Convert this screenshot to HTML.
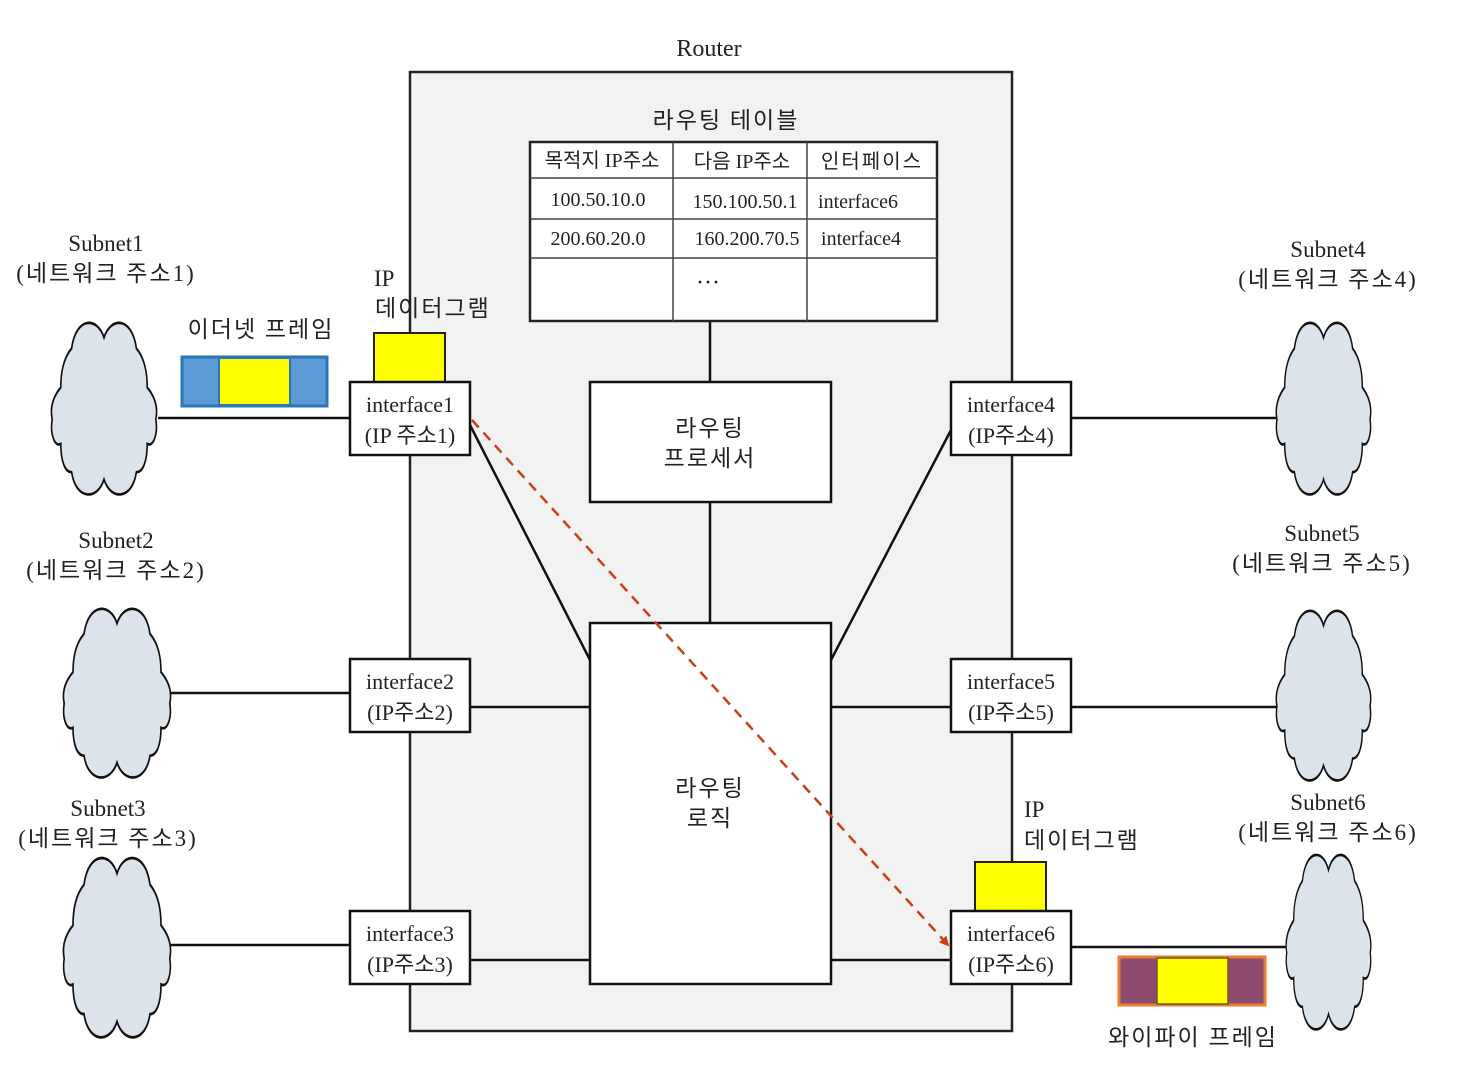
<!DOCTYPE html>
<html><head><meta charset="utf-8"><style>
html,body{margin:0;padding:0;background:#fff;}
svg{display:block;}
text{font-family:"Liberation Serif","Noto Sans CJK KR",serif;fill:#222;}
.ls{letter-spacing:2px;}
</style></head><body>
<svg width="1466" height="1085" viewBox="0 0 1466 1085" xmlns="http://www.w3.org/2000/svg">
<defs>
<path id="cl" d="M50,10 C44,-2 24,-2 20,16 C12,22 10,30 10,38 C2,44 0,50 2,56 C0,64 4,72 10,70 C10,80 14,86 20,86 C24,102 44,102 50,90 C56,102 76,102 80,86 C86,86 90,80 90,70 C96,72 100,64 98,56 C100,50 98,44 90,38 C90,30 88,22 80,16 C76,-2 56,-2 50,10 Z"/>
<marker id="ar" markerWidth="10" markerHeight="10" refX="8" refY="5" orient="auto" markerUnits="userSpaceOnUse"><path d="M0,0 L10,5 L0,10 Z" fill="#c8401a"/></marker>
</defs>
<rect x="410" y="72" width="602" height="959" fill="#f2f2f2" stroke="#222" stroke-width="2.5"/>
<text x="709" y="56" font-size="24" text-anchor="middle">Router</text>

<g stroke="#111" stroke-width="2.5">
<line x1="158" y1="418" x2="350" y2="418"/>
<line x1="170" y1="693" x2="350" y2="693"/>
<line x1="170" y1="945" x2="350" y2="945"/>
<line x1="1071" y1="418" x2="1278" y2="418"/>
<line x1="1071" y1="707" x2="1280" y2="707"/>
<line x1="1071" y1="947" x2="1287" y2="947"/>
<line x1="710" y1="321" x2="710" y2="382"/>
<line x1="710" y1="502" x2="710" y2="623"/>
<line x1="470" y1="425" x2="590" y2="660"/>
<line x1="951" y1="430" x2="831" y2="660"/>
<line x1="470" y1="707" x2="590" y2="707"/>
<line x1="831" y1="707" x2="951" y2="707"/>
<line x1="470" y1="960" x2="590" y2="960"/>
<line x1="831" y1="960" x2="951" y2="960"/>
</g>

<g fill="#dde3ea" stroke="#111" stroke-width="1.5">
<use href="#cl" transform="translate(50,320) scale(1.08,1.77)"/>
<use href="#cl" transform="translate(62,606) scale(1.1,1.74)"/>
<use href="#cl" transform="translate(62,855) scale(1.1,1.85)"/>
<use href="#cl" transform="translate(1275,320) scale(0.97,1.77)"/>
<use href="#cl" transform="translate(1275,608) scale(0.97,1.75)"/>
<use href="#cl" transform="translate(1285,852) scale(0.87,1.8)"/>
</g>

<text x="726" y="128" font-size="23" text-anchor="middle" class="ls">라우팅 테이블</text>
<rect x="530" y="142" width="407" height="179" fill="#fff" stroke="#222" stroke-width="2.5"/>
<g stroke="#444" stroke-width="1.5">
<line x1="530" y1="178" x2="937" y2="178"/>
<line x1="530" y1="219" x2="937" y2="219"/>
<line x1="530" y1="258" x2="937" y2="258"/>
<line x1="673" y1="142" x2="673" y2="321"/>
<line x1="807" y1="142" x2="807" y2="321"/>
</g>
<g font-size="20" text-anchor="middle">
<text x="602" y="167">목적지 IP주소</text>
<text x="742" y="168">다음 IP주소</text>
<text x="872" y="168" class="ls">인터페이스</text>
<text x="598" y="206">100.50.10.0</text>
<text x="745" y="208">150.100.50.1</text>
<text x="858" y="208">interface6</text>
<text x="598" y="245">200.60.20.0</text>
<text x="747" y="245">160.200.70.5</text>
<text x="861" y="245">interface4</text>
<text x="708" y="290" font-size="24">···</text>
</g>

<rect x="590" y="382" width="241" height="120" fill="#fff" stroke="#111" stroke-width="2.5"/>
<text x="710" y="436" font-size="23" text-anchor="middle" class="ls">라우팅</text>
<text x="710" y="466" font-size="23" text-anchor="middle" class="ls">프로세서</text>
<rect x="590" y="623" width="241" height="361" fill="#fff" stroke="#111" stroke-width="2.5"/>
<text x="710" y="796" font-size="23" text-anchor="middle" class="ls">라우팅</text>
<text x="710" y="826" font-size="23" text-anchor="middle" class="ls">로직</text>

<rect x="374" y="333" width="71" height="49" fill="#ffff00" stroke="#222" stroke-width="2"/>
<rect x="975" y="862" width="71" height="49" fill="#ffff00" stroke="#222" stroke-width="2"/>

<g fill="#fff" stroke="#111" stroke-width="2.5">
<rect x="350" y="382" width="120" height="73"/>
<rect x="350" y="659" width="120" height="73"/>
<rect x="350" y="911" width="120" height="73"/>
<rect x="951" y="382" width="120" height="73"/>
<rect x="951" y="659" width="120" height="73"/>
<rect x="951" y="911" width="120" height="73"/>
</g>
<g font-size="22" text-anchor="middle">
<text x="410" y="412">interface1</text><text x="410" y="443">(IP 주소1)</text>
<text x="410" y="689">interface2</text><text x="410" y="720">(IP주소2)</text>
<text x="410" y="941">interface3</text><text x="410" y="972">(IP주소3)</text>
<text x="1011" y="412">interface4</text><text x="1011" y="443">(IP주소4)</text>
<text x="1011" y="689">interface5</text><text x="1011" y="720">(IP주소5)</text>
<text x="1011" y="941">interface6</text><text x="1011" y="972">(IP주소6)</text>
</g>

<line x1="472" y1="420" x2="948" y2="945" stroke="#c8401a" stroke-width="2.5" stroke-dasharray="10,7" marker-end="url(#ar)"/>

<rect x="182" y="357" width="145" height="49" fill="#5b9bd5" stroke="#2e75b6" stroke-width="3"/>
<rect x="219" y="358" width="71" height="47" fill="#ffff00" stroke="#2e75b6" stroke-width="2"/>
<rect x="1119" y="957" width="146" height="48" fill="#8e4b6f" stroke="#ed7d31" stroke-width="3"/>
<rect x="1157" y="958" width="71" height="46" fill="#ffff00" stroke="#6b5a1f" stroke-width="1.5"/>

<g font-size="23" text-anchor="middle">
<text x="106" y="251">Subnet1</text><text x="106" y="281" class="ls">(네트워크 주소1)</text>
<text x="116" y="548">Subnet2</text><text x="116" y="578" class="ls">(네트워크 주소2)</text>
<text x="108" y="816">Subnet3</text><text x="108" y="846" class="ls">(네트워크 주소3)</text>
<text x="1328" y="257">Subnet4</text><text x="1328" y="287" class="ls">(네트워크 주소4)</text>
<text x="1322" y="541">Subnet5</text><text x="1322" y="571" class="ls">(네트워크 주소5)</text>
<text x="1328" y="810">Subnet6</text><text x="1328" y="840" class="ls">(네트워크 주소6)</text>
<text x="261" y="337" class="ls">이더넷 프레임</text>
<text x="1193" y="1045" class="ls">와이파이 프레임</text>
</g>
<g font-size="23">
<text x="374" y="286">IP</text><text x="375" y="316" class="ls">데이터그램</text>
<text x="1024" y="817">IP</text><text x="1024" y="848" class="ls">데이터그램</text>
</g>
</svg>
</body></html>
